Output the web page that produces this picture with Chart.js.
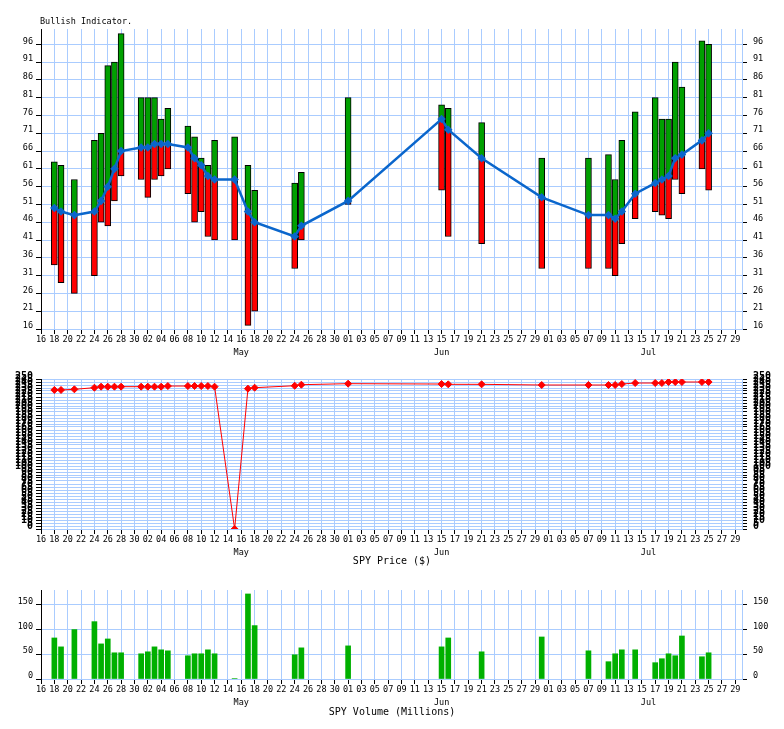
<!DOCTYPE html>
<html>
<head>
<meta charset="utf-8">
<script src="https://cdn.jsdelivr.net/npm/chart.js@4/dist/chart.umd.min.js"></script>
<style>
  html, body { margin: 0; padding: 0; background: #fff; }
  canvas { position: absolute; left: 0; }
</style>
</head>
<body>
<canvas id="bull-chart" width="784" height="365" style="top:0"></canvas>
<canvas id="price-chart" width="784" height="205" style="top:365px"></canvas>
<canvas id="volume-chart" width="784" height="159" style="top:570px"></canvas>
<script>
// trading days shown (month-day), axis runs Apr 16 .. Jul 30
const axisStart = '04-16';
const axisEnd = '07-30';
const dates = [
  '04-18', '04-19', '04-21', '04-24', '04-25', '04-26', '04-27', '04-28',
  '05-01', '05-02', '05-03', '05-04', '05-05', '05-08', '05-09', '05-10',
  '05-11', '05-12', '05-15', '05-17', '05-18', '05-24', '05-25', '06-01',
  '06-15', '06-16', '06-21', '06-30', '07-07', '07-10', '07-11', '07-12',
  '07-14', '07-17', '07-18', '07-19', '07-20', '07-21', '07-24', '07-25'
];
const bullHigh = [63, 62, 58, 69, 71, 90, 91, 99, 81, 81, 81, 75, 78, 73, 70, 64, 62, 69, 70, 62,
  55, 57, 60, 81, 79, 78, 74, 64, 64, 65, 58, 69, 77, 81, 75, 75, 91, 84, 97, 96];
const bullLow = [34, 29, 26, 31, 46, 45, 52, 59, 58, 53, 58, 59, 61, 54, 46, 49, 42, 41, 41, 17,
  21, 33, 41, 51, 55, 42, 40, 33, 33, 33, 31, 40, 47, 49, 48, 47, 58, 54, 61, 55];
const bullIndex = [50, 49, 48, 49, 52, 56, 61, 66, 67, 67, 68, 68, 68, 67, 64, 62, 59, 58, 58, 49,
  46, 42, 45, 52, 75, 72, 64, 53, 48, 48, 47, 49, 54, 57, 58, 59, 64, 65, 69, 71];
const spyPrice = [231.7, 231.7, 232.8, 235.5, 237.2, 237.2, 237.2, 237.2, 237.2, 237.2, 237.2, 237.2,
  238.3, 238.3, 238.3, 238.3, 238.3, 237.2, 0, 233.9, 235.5, 238.8, 240.5, 242.2, 241.6, 241.1,
  241.1, 240, 240, 240, 240, 241.6, 243.3, 243.3, 243.3, 245, 245, 245, 245, 245];
const spyVolume = [83, 65, 100, 116, 71, 81, 53, 53, 51, 55, 65, 59, 57, 47, 51, 51, 59, 51, 1, 172,
  108, 49, 63, 67, 65, 83, 55, 85, 57, 35, 51, 59, 59, 33, 41, 51, 47, 87, 45, 53];

const bullTicks = [16, 21, 26, 31, 36, 41, 46, 51, 56, 61, 66, 71, 76, 81, 86, 91, 96];
const volumeTicks = [0, 50, 100, 150];
const monthNames = ['May', 'Jun', 'Jul'];
const monthMidDates = ['05-16', '06-15', '07-16'];

const gridBlue = '#aaccff';
const monoFont = 'DejaVu Sans Mono';

Chart.defaults.font.family = monoFont;
Chart.defaults.font.size = 8.5;
Chart.defaults.color = '#000';

function toTime(md) {
  const [m, d] = md.split('-').map(Number);
  return Date.UTC(2018, m - 1, d);
}

function dayOf(md) {
  return (toTime(md) - toTime(axisStart)) / 86400000;
}

function dayLabel(v) {
  const d = new Date(toTime(axisStart) + v * 86400000).getUTCDate();
  return String(d).padStart(2, '0');
}

const lastDay = dayOf(axisEnd);
const dayTicks = [];
for (let v = 0; v < lastDay; v += 2) dayTicks.push(v);

// titles and month names, placed through the x scale
const captionPlugin = {
  id: 'caption',
  afterDraw(chart, args, opts) {
    const ctx = chart.ctx;
    const xScale = chart.scales.x;
    ctx.save();
    ctx.fillStyle = '#000';
    ctx.textBaseline = 'middle';
    ctx.textAlign = 'center';
    ctx.font = `8.5px ${monoFont}`;
    monthNames.forEach((name, i) => {
      ctx.fillText(name, xScale.getPixelForValue(dayOf(monthMidDates[i])), opts.monthY);
    });
    ctx.font = opts.font;
    ctx.textAlign = opts.align;
    ctx.fillText(opts.text, opts.x, opts.y);
    ctx.restore();
  }
};

function xAxis() {
  return {
    type: 'linear',
    position: 'bottom',
    min: 0,
    max: lastDay,
    offset: false,
    afterBuildTicks: (s) => { s.ticks = dayTicks.map((v) => ({ value: v })); },
    afterFit: (s) => { s.height = 30; },
    ticks: { autoSkip: false, maxRotation: 0, padding: 1, callback: (v) => dayLabel(v) },
    grid: {
      offset: false,
      color: (c) => (c.tick && c.tick.value === 0 ? 'rgba(0,0,0,0)' : gridBlue),
      tickColor: '#000',
      tickLength: 5
    },
    border: { color: gridBlue }
  };
}

function yAxes(min, max, tickList, step, font) {
  const build = tickList ? (s) => { s.ticks = tickList.map((v) => ({ value: v })); } : undefined;
  const ticks = { autoSkip: false, labelOffset: -3, font };
  if (step) ticks.stepSize = step;
  return {
    y: {
      position: 'left',
      min, max,
      afterBuildTicks: build,
      afterFit: (s) => { s.width = 41; },
      ticks: { ...ticks, padding: 3 },
      grid: { color: gridBlue, tickColor: '#000', tickLength: 5 },
      border: { color: '#000' }
    },
    yRight: {
      position: 'right',
      min, max,
      afterBuildTicks: build,
      afterFit: (s) => { s.width = 42; },
      ticks: { ...ticks, padding: 6 },
      grid: { drawOnChartArea: false, tickColor: '#000', tickLength: 5 },
      border: { color: gridBlue }
    }
  };
}

const commonPlugins = { legend: { display: false }, tooltip: { enabled: false } };
const points = (values) => dates.map((d, i) => ({ x: dayOf(d), y: values[i] }));

new Chart(document.getElementById('bull-chart'), {
  type: 'bar',
  data: {
    datasets: [
      {
        type: 'line',
        data: points(bullIndex),
        borderColor: '#0a66cc',
        backgroundColor: '#0a66cc',
        borderWidth: 2.5,
        pointStyle: 'rectRot',
        pointRadius: 2.5,
        tension: 0,
        order: 0
      },
      {
        data: dates.map((d, i) => ({ x: dayOf(d), y: [bullIndex[i], bullHigh[i]] })),
        backgroundColor: '#00a000',
        borderColor: '#000',
        borderWidth: 1,
        borderSkipped: false,
        barThickness: 6,
        grouped: false,
        order: 2
      },
      {
        data: dates.map((d, i) => ({ x: dayOf(d), y: [bullLow[i], bullIndex[i]] })),
        backgroundColor: '#ff0000',
        borderColor: '#000',
        borderWidth: 1,
        borderSkipped: false,
        barThickness: 6,
        grouped: false,
        order: 1
      }
    ]
  },
  options: {
    responsive: false,
    animation: false,
    devicePixelRatio: 1,
    layout: { padding: { top: 29, bottom: 6, left: 0, right: 0 } },
    scales: { x: xAxis(), ...yAxes(16, 100.3, bullTicks) },
    plugins: {
      ...commonPlugins,
      caption: { text: 'Bullish Indicator.', x: 40, y: 22, align: 'left', font: `8.5px ${monoFont}`, monthY: 353 }
    }
  },
  plugins: [captionPlugin]
});

new Chart(document.getElementById('price-chart'), {
  type: 'line',
  data: {
    datasets: [{
      data: points(spyPrice),
      borderColor: '#ff0000',
      backgroundColor: '#ff0000',
      borderWidth: 1,
      pointStyle: 'rectRot',
      pointRadius: 3.5,
      tension: 0
    }]
  },
  options: {
    responsive: false,
    animation: false,
    devicePixelRatio: 1,
    layout: { padding: { top: 14, bottom: 11, left: 0, right: 0 } },
    scales: { x: xAxis(), ...yAxes(0, 250, null, 5, { size: 10, weight: 'bold' }) },
    plugins: {
      ...commonPlugins,
      caption: { text: 'SPY Price ($)', x: 392, y: 196, align: 'center', font: `10px ${monoFont}`, monthY: 188 }
    }
  },
  plugins: [captionPlugin]
});

new Chart(document.getElementById('volume-chart'), {
  type: 'bar',
  data: {
    datasets: [{
      data: points(spyVolume),
      backgroundColor: '#00b000',
      barThickness: 5
    }]
  },
  options: {
    responsive: false,
    animation: false,
    devicePixelRatio: 1,
    layout: { padding: { top: 20, bottom: 20, left: 0, right: 0 } },
    scales: { x: xAxis(), ...yAxes(0, 180, volumeTicks) },
    plugins: {
      ...commonPlugins,
      caption: { text: 'SPY Volume (Millions)', x: 392, y: 142, align: 'center', font: `10px ${monoFont}`, monthY: 133 }
    }
  },
  plugins: [captionPlugin]
});
</script>
</body>
</html>
